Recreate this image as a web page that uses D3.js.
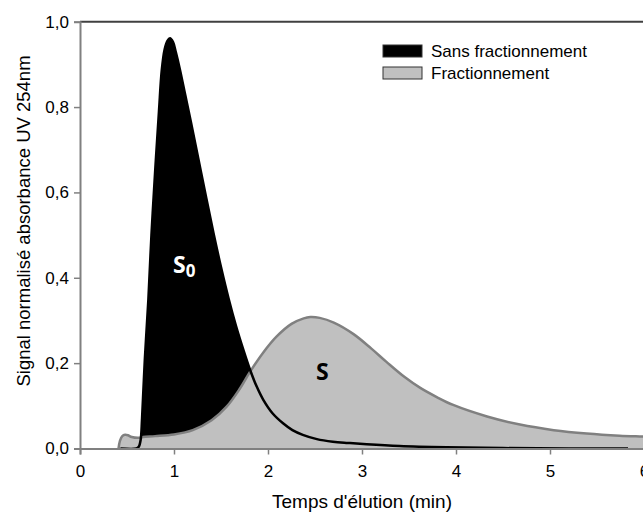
<!DOCTYPE html>
<html><head><meta charset="utf-8">
<script src="https://cdn.jsdelivr.net/npm/d3@7"></script>
<style>
html,body{margin:0;padding:0;background:#fff;}
svg{display:block;font-family:"Liberation Sans",Arial,sans-serif;}
</style></head>
<body>
<svg id="chart" width="643" height="515"></svg>
<script>
// ---- data ----
const xTicks = [0, 1, 2, 3, 4, 5, 6];
const yTicks = [0, 0.2, 0.4, 0.6, 0.8, 1.0];
const seriesNames = ["Sans fractionnement", "Fractionnement"];
const xTitle = "Temps d'élution (min)";
const yTitle = "Signal normalisé absorbance UV 254nm";

const sansX = [0.43, 0.60, 0.625, 0.645, 0.66, 0.69, 0.727, 0.76, 0.80, 0.84, 0.87, 0.90, 0.93, 0.957, 0.99, 1.02, 1.064, 1.12, 1.18, 1.29, 1.42, 1.50, 1.58, 1.66, 1.74, 1.81, 1.88, 1.95, 2.05, 2.16, 2.26, 2.37, 2.52, 2.69, 2.85, 3.05, 3.4, 3.9, 4.5, 5.2, 5.83];
const sansY = [0.000, 0.000, 0.004, 0.020, 0.070, 0.210, 0.348, 0.500, 0.652, 0.790, 0.887, 0.935, 0.955, 0.961, 0.952, 0.928, 0.887, 0.828, 0.765, 0.645, 0.505, 0.425, 0.352, 0.287, 0.230, 0.184, 0.145, 0.114, 0.082, 0.059, 0.043, 0.032, 0.022, 0.016, 0.013, 0.010, 0.006, 0.003, 0.001, 0.000, 0.000];

const fracX = [0.41, 0.425, 0.45, 0.48, 0.51, 0.55, 0.62, 0.67, 0.80, 1.00, 1.20, 1.40, 1.56, 1.70, 1.81, 1.95, 2.09, 2.25, 2.38, 2.45, 2.55, 2.70, 2.91, 3.10, 3.26, 3.45, 3.62, 3.80, 3.97, 4.33, 4.68, 5.04, 5.39, 5.74, 6.00, 6.10];
const fracY = [0.000, 0.018, 0.029, 0.032, 0.031, 0.027, 0.025, 0.027, 0.029, 0.033, 0.043, 0.066, 0.098, 0.140, 0.180, 0.225, 0.262, 0.292, 0.305, 0.308, 0.306, 0.295, 0.268, 0.234, 0.203, 0.168, 0.142, 0.120, 0.102, 0.075, 0.056, 0.043, 0.035, 0.030, 0.028, 0.027];

const sans = sansX.map((x, i) => ({x, y: sansY[i]}));
const frac = fracX.map((x, i) => ({x, y: fracY[i]}));

// ---- layout ----
const svg = d3.select("#chart");
const x = d3.scaleLinear().domain([0, 6]).range([80, 644]);
const y = d3.scaleLinear().domain([0, 1]).range([448.5, 21.7]);

const defs = svg.append("defs");
defs.append("clipPath").attr("id", "plotClip")
  .append("rect").attr("x", 80).attr("y", 0).attr("width", 563).attr("height", 449);

const plot = svg.append("g").attr("clip-path", "url(#plotClip)");

const curve = d3.curveCatmullRom.alpha(0.5);
const area = d3.area().x(d => x(d.x)).y0(y(0)).y1(d => y(d.y)).curve(curve);
const line = d3.line().x(d => x(d.x)).y(d => y(d.y)).curve(curve);

// black filled area
plot.append("path").datum(sans).attr("d", area).attr("fill", "#000");
// gray area with gray outline
plot.append("path").datum(frac).attr("d", area).attr("fill", "#c0c0c0");
plot.append("path").datum(frac).attr("d", line).attr("fill", "none")
  .attr("stroke", "#808080").attr("stroke-width", 2.5);
// black line on top
plot.append("path").datum(sans).attr("d", line).attr("fill", "none")
  .attr("stroke", "#000").attr("stroke-width", 2.5);

// top border
svg.append("line").attr("x1", x(0)).attr("x2", 643).attr("y1", y(1)).attr("y2", y(1))
  .attr("stroke", "#404040").attr("stroke-width", 2);

// axes
const fmt = d => d3.format(".1f")(d).replace(".", ",");
const yAxis = svg.append("g").attr("transform", `translate(${x(0)},0)`)
  .call(d3.axisLeft(y).tickValues(yTicks).tickFormat(fmt).tickSize(6).tickPadding(5));
const xAxis = svg.append("g").attr("transform", `translate(0,${y(0)})`)
  .call(d3.axisBottom(x).tickValues(xTicks).tickFormat(d3.format("d")).tickSize(6).tickPadding(10));
[yAxis, xAxis].forEach(a => {
  a.select(".domain").attr("stroke", "#808080").attr("stroke-width", 2);
  a.selectAll(".tick line").attr("stroke", "#808080").attr("stroke-width", 1.5);
  a.selectAll(".tick text").attr("fill", "#000").style("font-size", "17px")
    .style("font-family", "'Liberation Sans', Arial, sans-serif");
});

// titles
svg.append("text").attr("x", x(3)).attr("y", 508).attr("text-anchor", "middle")
  .style("font-size", "19px").text(xTitle);
svg.append("text").attr("transform", `translate(30,${221}) rotate(-90)`).attr("text-anchor", "middle")
  .style("font-size", "18.5px").text(yTitle);

// legend
const legFill = ["#000", "#c0c0c0"];
const leg = svg.append("g");
seriesNames.forEach((name, i) => {
  const yy = 45 + i * 22;
  leg.append("rect").attr("x", 383).attr("y", yy).attr("width", 39).attr("height", 12)
    .attr("fill", legFill[i]).attr("stroke", "#333").attr("stroke-width", 1);
  leg.append("text").attr("x", 431).attr("y", yy + 6).attr("dy", "0.35em")
    .style("font-size", "17px").text(name);
});

// area labels
const s0 = svg.append("text").attr("x", 173).attr("y", 273)
  .style("font-family", "'Open Sans', sans-serif").style("font-weight", "bold")
  .style("font-size", "23px").attr("fill", "#fff");
s0.append("tspan").text("S");
s0.append("tspan").attr("dy", 4).style("font-size", "17px").text("0");
svg.append("text").attr("x", 316).attr("y", 380)
  .style("font-family", "'Open Sans', sans-serif").style("font-weight", "bold")
  .style("font-size", "23px").attr("fill", "#000").text("S");
</script>
</body></html>
